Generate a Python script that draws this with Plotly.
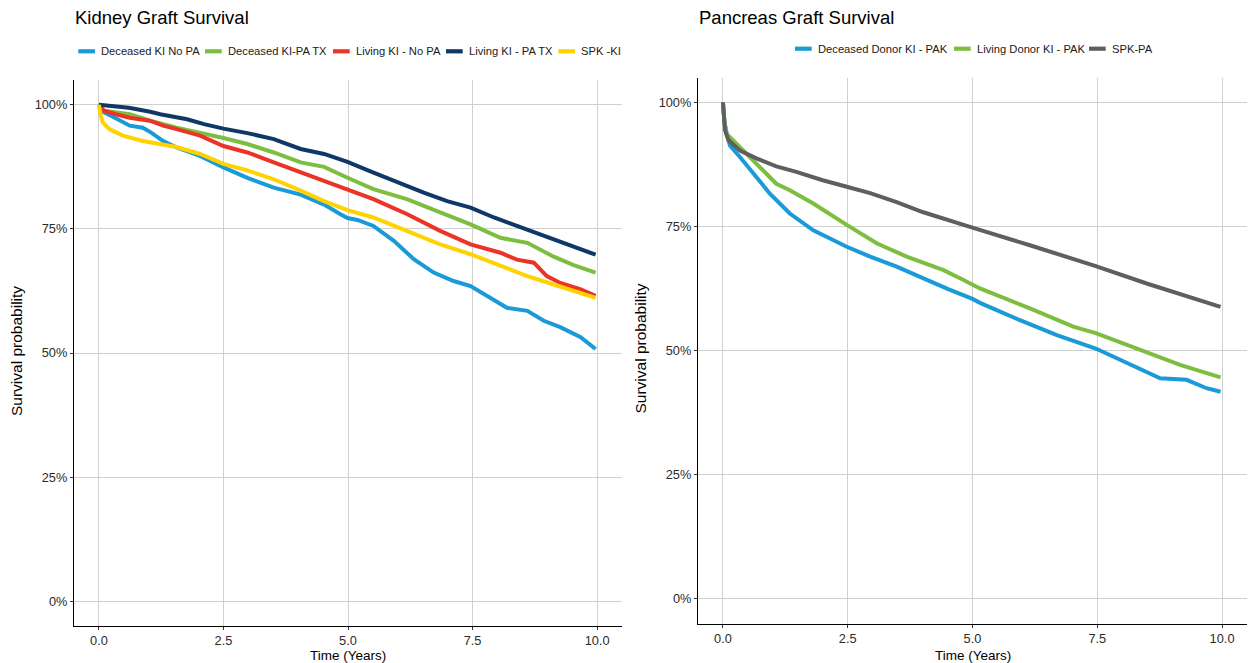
import plotly.graph_objects as go

W, H = 1249, 663

# ---------------- Kidney graft survival (percent) ----------------
kid_names = ["Deceased KI No PA", "Deceased KI-PA TX", "Living KI - No PA",
             "Living KI - PA TX", "SPK -KI"]
kid_colors = ["#1A9AD6", "#7DBE41", "#EC3327", "#0F3868", "#FFD200"]

kid_dec_nopa_t = [0, 0.08, 0.28, 0.62, 0.88, 1.05, 1.29, 1.56, 2.03, 2.5, 2.98, 3.51, 4.05,
                  4.52, 4.84, 4.99, 5.19, 5.51, 5.92, 6.32, 6.72, 7.12, 7.46, 7.79, 8.19, 8.6,
                  8.93, 9.26, 9.67, 9.97]
kid_dec_nopa_v = [100, 98.6, 97.6, 95.8, 95.4, 94.4, 92.7, 91.4, 89.7, 87.4, 85.3, 83.3, 81.9,
                  79.9, 78.0, 77.2, 76.8, 75.6, 72.6, 68.9, 66.2, 64.5, 63.5, 61.5, 59.1, 58.5,
                  56.5, 55.2, 53.2, 50.8]

kid_dec_patx_t = [0, 0.1, 0.62, 1.03, 1.56, 2.03, 2.5, 2.98, 3.51, 4.05, 4.52, 4.99, 5.51,
                  6.18, 6.85, 7.46, 8.06, 8.6, 9.13, 9.53, 9.97]
kid_dec_patx_v = [100, 98.8, 98.1, 96.8, 95.4, 94.4, 93.3, 92.1, 90.4, 88.4, 87.5, 85.3, 83.0,
                  81.0, 78.3, 75.9, 73.2, 72.2, 69.4, 67.7, 66.2]

kid_liv_nopa_t = [0, 0.1, 0.34, 0.62, 1.02, 1.29, 1.56, 2.03, 2.5, 2.98, 3.51, 4.05, 4.52,
                  4.99, 5.51, 6.18, 6.85, 7.46, 8.06, 8.39, 8.73, 8.99, 9.26, 9.67, 9.97]
kid_liv_nopa_v = [100, 98.8, 98.1, 97.4, 96.8, 95.8, 95.1, 93.8, 91.7, 90.4, 88.4, 86.4, 84.7,
                  82.9, 81.0, 78.0, 74.6, 71.9, 70.2, 68.8, 68.2, 65.5, 64.1, 62.8, 61.5]

kid_liv_patx_t = [0, 0.3, 0.6, 1.03, 1.23, 1.77, 2.11, 2.5, 2.98, 3.51, 4.05, 4.52, 4.99,
                  5.45, 5.92, 6.52, 6.99, 7.46, 7.93, 8.39, 8.86, 9.40, 9.97]
kid_liv_patx_v = [100, 99.6, 99.4, 98.6, 98.1, 97.1, 96.1, 95.2, 94.3, 93.1, 91.1, 90.1, 88.5,
                  86.6, 84.7, 82.3, 80.6, 79.3, 77.3, 75.6, 73.9, 71.9, 69.8]

kid_spk_t = [0, 0.03, 0.08, 0.21, 0.48, 0.88, 1.22, 1.56, 2.03, 2.5, 2.98, 3.51, 4.05, 4.52,
             4.99, 5.51, 6.18, 6.85, 7.46, 8.06, 8.6, 9.13, 9.97]
kid_spk_v = [100, 98.1, 96.4, 95.1, 93.8, 92.7, 92.1, 91.5, 90.1, 88.1, 86.8, 85.0, 82.7, 80.6,
             78.8, 77.3, 74.6, 71.9, 69.9, 67.5, 65.5, 63.8, 61.1]

kid_times = [kid_dec_nopa_t, kid_dec_patx_t, kid_liv_nopa_t, kid_liv_patx_t, kid_spk_t]
kid_values = [kid_dec_nopa_v, kid_dec_patx_v, kid_liv_nopa_v, kid_liv_patx_v, kid_spk_v]

# ---------------- Pancreas graft survival (percent) ----------------
pan_names = ["Deceased Donor KI - PAK", "Living Donor KI - PAK", "SPK-PA"]
pan_colors = ["#1A9AD6", "#7DBE41", "#5F5F5F"]

pan_dec_t = [0, 0.03, 0.08, 0.14, 0.34, 0.67, 0.94, 1.34, 1.81, 2.48, 2.95, 3.48, 4.01, 4.5,
             5.0, 5.15, 5.95, 6.69, 7.47, 7.82, 8.16, 8.76, 9.29, 9.69, 9.97]
pan_dec_v = [100, 96, 93.5, 91.3, 89.0, 85.0, 81.6, 77.6, 74.2, 70.9, 68.9, 66.9, 64.5, 62.4,
             60.4, 59.6, 56.1, 53.1, 50.4, 48.8, 47.1, 44.4, 44.1, 42.4, 41.7]

pan_liv_t = [0, 0.03, 0.07, 0.34, 0.67, 1.07, 1.34, 1.81, 2.48, 3.08, 3.68, 4.42, 4.82, 5.15,
             6.15, 7.02, 7.47, 8.02, 8.49, 9.16, 9.97]
pan_liv_v = [100, 96, 93.7, 91.0, 87.7, 83.6, 82.3, 79.6, 75.3, 71.6, 68.9, 66.2, 64.2, 62.5,
             58.5, 54.8, 53.5, 51.4, 49.8, 47.1, 44.6]

pan_spk_t = [0, 0.04, 0.11, 0.34, 0.67, 1.07, 1.47, 2.0, 2.48, 2.95, 3.48, 4.0, 4.95, 5.35,
             6.15, 7.47, 8.49, 9.97]
pan_spk_v = [100, 94.4, 92.4, 90.3, 88.7, 87.1, 86.0, 84.3, 83.0, 81.7, 79.9, 77.9, 74.9, 73.7,
             71.2, 67.0, 63.5, 58.8]

pan_times = [pan_dec_t, pan_liv_t, pan_spk_t]
pan_values = [pan_dec_v, pan_liv_v, pan_spk_v]

x_ticks = [0, 2.5, 5, 7.5, 10]
x_tick_labels = ["0.0", "2.5", "5.0", "7.5", "10.0"]
y_ticks = [0, 25, 50, 75, 100]
y_tick_labels = ["0%", "25%", "50%", "75%", "100%"]

titles = ["Kidney Graft Survival", "Pancreas Graft Survival"]
x_title = "Time (Years)"
y_title = "Survival probability"

# ---------------- figure ----------------
FONT = "Liberation Sans, Arial, Helvetica, sans-serif"
LINE_W = 4

fig = go.Figure()
for t, v, n, c in zip(kid_times, kid_values, kid_names, kid_colors):
    fig.add_trace(go.Scatter(x=t, y=v, name=n, mode="lines", showlegend=False,
                             line=dict(color=c, width=LINE_W), xaxis="x", yaxis="y"))
for t, v, n, c in zip(pan_times, pan_values, pan_names, pan_colors):
    fig.add_trace(go.Scatter(x=t, y=v, name=n, mode="lines", showlegend=False,
                             line=dict(color=c, width=LINE_W), xaxis="x2", yaxis="y2"))

def px(x):
    return x / W

def py(y):
    return 1 - y / H

# panel boxes in pixels (left, top, right, bottom)
panels = [(74, 80, 622, 626), (698, 77.5, 1247, 623.5)]

axis_common = dict(showline=True, linecolor="black", linewidth=1.1, mirror=False,
                   ticks="outside", ticklen=3, tickwidth=1, tickcolor="#333333",
                   showgrid=True, gridcolor="#D0D0D0", gridwidth=1.1, zeroline=False,
                   tickfont=dict(family=FONT, size=12.8, color="#2B2B2B"))

layout = dict(width=W, height=H, margin=dict(l=0, r=0, t=0, b=0),
              paper_bgcolor="white", plot_bgcolor="white", showlegend=False,
              font=dict(family=FONT, color="black"))

for i, (l, t, r, b) in enumerate(panels):
    sx = "" if i == 0 else "2"
    layout["xaxis" + sx] = dict(domain=[px(l), px(r)], range=[-0.5, 10.5],
                                tickvals=x_ticks, ticktext=x_tick_labels,
                                anchor="y" + sx, **axis_common)
    layout["yaxis" + sx] = dict(domain=[py(b), py(t)], range=[-5, 105],
                                tickvals=y_ticks, ticktext=y_tick_labels,
                                anchor="x" + sx, **axis_common)
fig.update_layout(**layout)

annotations = []
shapes = []
for i, (l, t, r, b) in enumerate(panels):
    annotations.append(dict(text=titles[i], x=px(l - 1), y=py(17), xref="paper", yref="paper",
                            xanchor="left", yanchor="middle", showarrow=False,
                            font=dict(family=FONT, size=18.5, color="black")))
    annotations.append(dict(text=x_title, x=px((l + r) / 2), y=py(655), xref="paper",
                            yref="paper", xanchor="center", yanchor="middle", showarrow=False,
                            font=dict(family=FONT, size=13.5, color="black")))
    annotations.append(dict(text=y_title, x=px(l - 58), y=py((t + b) / 2 - 2), xref="paper",
                            yref="paper", xanchor="center", yanchor="middle", showarrow=False,
                            textangle=-90, font=dict(family=FONT, size=15.5, color="black")))

# legends (keys drawn as short thick bars)
leg_sets = [
    (kid_names, kid_colors, [78.3, 205, 333, 446, 558.3], 51.3),
    (pan_names, pan_colors, [795, 954, 1089], 48.7),
]
KEY_W, KEY_H, KEY_GAP = 16.7, 4.2, 4.2
for names, colors, x0s, yc in leg_sets:
    for n, c, x0 in zip(names, colors, x0s):
        shapes.append(dict(type="rect", xref="paper", yref="paper",
                           x0=px(x0), x1=px(x0 + KEY_W), y0=py(yc + KEY_H / 2),
                           y1=py(yc - KEY_H / 2), fillcolor=c, line=dict(width=0)))
        annotations.append(dict(text=n, x=px(x0 + KEY_W + KEY_GAP), y=py(yc), xref="paper",
                                yref="paper", xanchor="left", yanchor="middle",
                                showarrow=False,
                                font=dict(family=FONT, size=11.2, color="#1A1A1A")))

fig.update_layout(annotations=annotations, shapes=shapes)
fig.write_html("out.html", config={"displayModeBar": False},
               post_script="document.body.style.margin='0px';"
                           "document.body.style.overflow='hidden';")
